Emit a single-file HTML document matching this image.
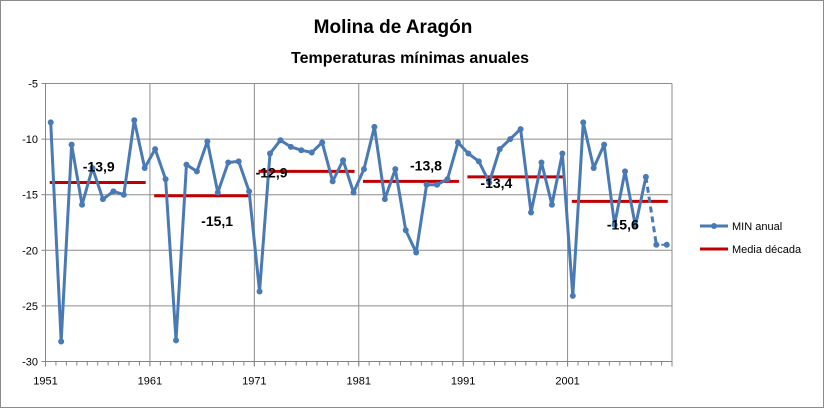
<!DOCTYPE html>
<html><head><meta charset="utf-8"><style>
body{margin:0;background:#fff;}
svg{display:block;font-family:"Liberation Sans",Arial,sans-serif;}
</style></head><body>
<svg id="chart" width="824" height="408" viewBox="0 0 824 408">
<rect x="0.5" y="0.5" width="823" height="407" fill="#fff" stroke="#8c8c8c"/>
<text x="393" y="33" text-anchor="middle" font-size="19" font-weight="bold">Molina de Aragón</text>
<text x="410" y="63" text-anchor="middle" font-size="16" font-weight="bold">Temperaturas mínimas  anuales</text>
<g id="grid"></g><g id="axes"></g><g id="marks"></g>
<g>
<line x1="700" y1="226" x2="728" y2="226" stroke="#4a7ab5" stroke-width="3"/>
<circle cx="714" cy="226" r="3" fill="#4a7ab5"/>
<text x="732" y="230" font-size="11">MIN anual</text>
<line x1="700" y1="249" x2="728" y2="249" stroke="#c00000" stroke-width="3"/>
<text x="732" y="253" font-size="11">Media década</text>
</g>
</svg>
<script>
const years=[];for(let y=1951;y<=2010;y++)years.push(y);
const minValues=[-8.5,-28.2,-10.5,-15.9,-12.6,-15.4,-14.7,-15.0,-8.3,-12.6,
-10.9,-13.6,-28.1,-12.3,-12.9,-10.2,-14.8,-12.1,-12.0,-14.7,
-23.7,-11.3,-10.1,-10.7,-11.0,-11.2,-10.3,-13.8,-11.9,-14.8,
-12.7,-8.9,-15.4,-12.7,-18.2,-20.2,-14.1,-14.1,-13.6,-10.3,
-11.3,-12.0,-13.9,-10.9,-10.0,-9.1,-16.6,-12.1,-15.9,-11.3,
-24.1,-8.5,-12.6,-10.5,-17.7,-12.9,-17.8,-13.4,-19.5,-19.5];
const decadeMeans=[-13.9,-15.1,-12.9,-13.8,-13.4,-15.6];
const decadeLabels=["-13,9","-15,1","-12,9","-13,8","-13,4","-15,6"];
const yTicks=[-5,-10,-15,-20,-25,-30];
const xTickLabels=["1951","1961","1971","1981","1991","2001"];
const labelOffsets=[[48,-11],[62,30],[12,6],[62,-11],[28,11],[50,28]];

const NS="http://www.w3.org/2000/svg";
const L=45.5,R=672,T=83.5,B=361.5;
const xBand=(R-L)/years.length;
const xs=i=>L+(i+0.5)*xBand;
const ys=v=>T+(-5-v)/(-5+30)*(B-T);
function mk(tag,attrs,parent){const e=document.createElementNS(NS,tag);for(const k in attrs)e.setAttribute(k,attrs[k]);document.getElementById(parent).appendChild(e);return e;}

yTicks.forEach(v=>{
 const g=mk('line',{x1:L,x2:R,y1:ys(v),y2:ys(v),stroke:v===-30?'#868686':'#8c8c8c','stroke-width':1},'grid');
 
 
 const t=mk('text',{x:38,y:ys(v)+4,'text-anchor':'end','font-size':11},'axes');
 t.textContent=v;
 
 
 const tk=mk('line',{x1:L-4,x2:L,y1:ys(v),y2:ys(v),stroke:'#868686'},'axes');
 
 
});
for(let i=0;i<=years.length;i+=10){
 const x=L+i*xBand;
 const g=mk('line',{x1:x,x2:x,y1:T,y2:B+5,stroke:'#8c8c8c'},'grid');
 
 
 if(i/10<xTickLabels.length){
  const t=mk('text',{x:x,y:B+23,'text-anchor':'middle','font-size':11},'axes');
  t.textContent=xTickLabels[i/10];
  
  
 }
}
for(let i=0;i<=years.length;i++){
 const x=L+i*xBand;
 const tk=mk('line',{x1:x,x2:x,y1:B,y2:B+4,stroke:'#868686'},'axes');
 
 
}
const ax=mk('line',{x1:L,x2:L,y1:T,y2:B,stroke:'#868686'},'axes');


const ax2=mk('line',{x1:L,x2:R,y1:B,y2:B,stroke:'#868686'},'axes');



// mean lines
decadeMeans.forEach((m,d)=>{
 const x1=xs(d*10),x2=xs(d*10+9);
 const ln=mk('line',{x1:x1-1,x2:x2+1,y1:ys(m),y2:ys(m),stroke:'#c00000','stroke-width':3},'marks');
 
 
});
// series
const n=minValues.length;
let pts=[];for(let i=0;i<n-2;i++)pts.push(xs(i)+','+ys(minValues[i]));
const pl=mk('polyline',{points:pts.join(' '),fill:'none',stroke:'#4a7ab5','stroke-width':3,'stroke-linejoin':'round'},'marks');


const dl=mk('line',{x1:xs(n-3),y1:ys(minValues[n-3]),x2:xs(n-2),y2:ys(minValues[n-2]),stroke:'#4a7ab5','stroke-width':3,'stroke-dasharray':'6,4'},'marks');


const sl=mk('line',{x1:xs(n-2),y1:ys(minValues[n-2]),x2:xs(n-1),y2:ys(minValues[n-1]),stroke:'#4a7ab5','stroke-width':2,'stroke-dasharray':'3,2'},'marks');


minValues.forEach((v,i)=>{
 const c=mk('circle',{cx:xs(i),cy:ys(v),r:3,fill:'#4a7ab5'},'marks');
 
 
});
decadeMeans.forEach((m,d)=>{
 const t=mk('text',{x:xs(d*10)+labelOffsets[d][0],y:ys(m)+labelOffsets[d][1],'text-anchor':'middle','font-size':14,'font-weight':'bold'},'marks');
 t.textContent=decadeLabels[d];
 
 
});
</script>
</body></html>
